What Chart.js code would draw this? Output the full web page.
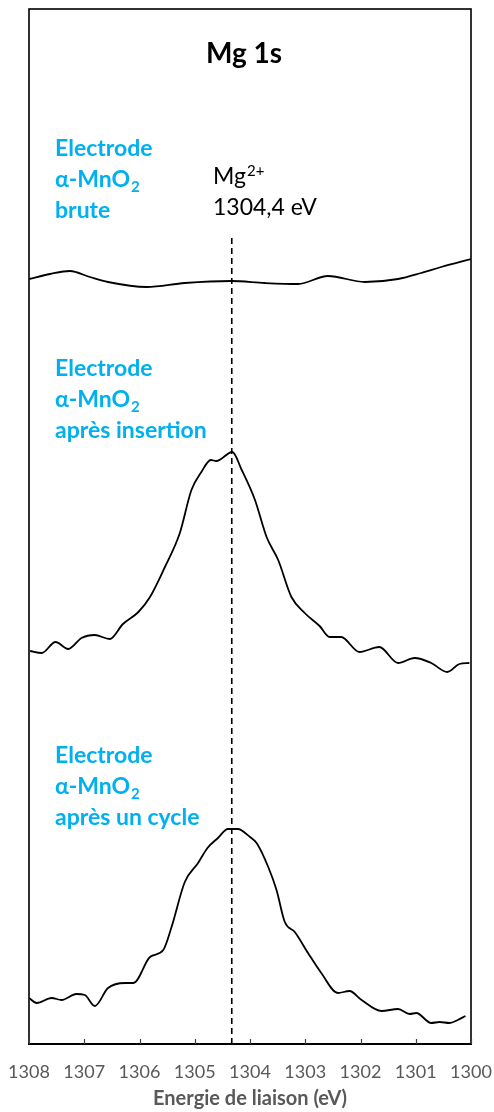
<!DOCTYPE html>
<html>
<head>
<meta charset="utf-8">
<script src="https://cdn.jsdelivr.net/npm/chart.js@4.4.1/dist/chart.umd.min.js"></script>
<style>
  html, body { margin: 0; padding: 0; background: #ffffff; }
  #wrap { width: 494px; height: 1112px; position: relative; }
</style>
</head>
<body>
<div id="wrap"><canvas id="c"></canvas></div>
<script>
// ---- Data (binding energy in eV, intensity in arbitrary stacked units) ----
const tickEnergies = [1308, 1307, 1306, 1305, 1304, 1303, 1302, 1301, 1300];

const energyBrute = [1308.00, 1307.62, 1307.26, 1306.90, 1306.57, 1305.87, 1305.18, 1304.34, 1303.73, 1303.13, 1302.59, 1301.92, 1301.32, 1300.90, 1300.54, 1300.00];
const intensityBrute = [765, 770, 773, 767, 762, 757, 761, 763, 761, 760, 768, 762, 765, 771, 777, 785];

const energyInsertion = [1307.98, 1307.77, 1307.52, 1307.29, 1307.05, 1306.81, 1306.54, 1306.30, 1306.02, 1305.81, 1305.54, 1305.27, 1305.06, 1304.88, 1304.71, 1304.61, 1304.32, 1304.15, 1303.91, 1303.70, 1303.49, 1303.25, 1303.01, 1302.74, 1302.56, 1302.35, 1302.02, 1301.66, 1301.32, 1301.02, 1300.72, 1300.43, 1300.21, 1300.03];
const intensityInsertion = [393, 391, 402, 395, 406, 409, 405, 420, 432, 447, 477, 511, 554, 572, 584, 583, 592, 574, 544, 507, 484, 447, 431, 418, 407, 407, 392, 397, 381, 386, 381, 372, 380, 381];

const energyCycle = [1308.00, 1307.86, 1307.59, 1307.41, 1307.14, 1306.99, 1306.81, 1306.57, 1306.26, 1306.11, 1305.81, 1305.57, 1305.42, 1305.18, 1304.94, 1304.77, 1304.58, 1304.40, 1304.22, 1304.00, 1303.88, 1303.67, 1303.52, 1303.37, 1303.19, 1302.95, 1302.71, 1302.41, 1302.20, 1301.98, 1301.62, 1301.32, 1301.11, 1300.99, 1300.72, 1300.57, 1300.39, 1300.24, 1300.10];
const intensityCycle = [46, 41, 46, 44, 50, 49, 38, 56, 61, 61, 87, 94, 117, 162, 181, 196, 206, 215, 215, 207, 201, 177, 154, 122, 112, 91, 71, 51, 53, 44, 33, 35, 30, 31, 21, 22, 21, 24, 28];

const markerEnergy = [1304.33, 1304.33];
const markerIntensity = [0, 807];

const yMin = 0, yMax = 1035;

function pts(xs, ys) { return xs.map((x, i) => ({ x: x, y: ys[i] })); }

const lineStyle = { showLine: true, borderColor: '#000000', borderWidth: 1.8, pointRadius: 0, cubicInterpolationMode: 'monotone', fill: false };

const framePlugin = {
  id: 'frame',
  afterDatasetsDraw(chart) {
    const ctx = chart.ctx;
    const { left, right, top, bottom } = chart.chartArea;
    const xs = chart.scales.x;
    ctx.save();
    // frame
    ctx.strokeStyle = '#000000';
    ctx.lineWidth = 1.6;
    ctx.strokeRect(left, top, right - left, bottom - top);
    ctx.lineWidth = 2.2;
    ctx.beginPath(); ctx.moveTo(left - 1, bottom); ctx.lineTo(right + 1, bottom); ctx.stroke();
    // inward tick marks
    ctx.lineWidth = 1.2;
    ctx.strokeStyle = '#404040';
    tickEnergies.forEach(v => {
      const px = Math.round(xs.getPixelForValue(v)) + 0.5;
      ctx.beginPath(); ctx.moveTo(px, bottom); ctx.lineTo(px, bottom - 5); ctx.stroke();
    });
    // title
    ctx.fillStyle = '#000000';
    ctx.textBaseline = 'alphabetic';
    ctx.textAlign = 'center';
    ctx.font = 'bold 28px Lato';
    ctx.fillText('Mg 1s', 244, 63);
    ctx.textAlign = 'left';
    // blue labels
    const blue = '#00B0F0';
    function mno2(x, y) {
      ctx.font = 'bold 23px Lato';
      ctx.fillText('α-MnO', x, y);
      const w = ctx.measureText('α-MnO').width;
      ctx.font = 'bold 15px Lato';
      ctx.fillText('2', x + w + 1, y + 5);
    }
    function block(y0, last) {
      ctx.fillStyle = blue;
      ctx.font = 'bold 23px Lato';
      ctx.fillText('Electrode', 55, y0);
      mno2(55, y0 + 31);
      ctx.font = 'bold 23px Lato';
      ctx.fillText(last, 55, y0 + 62);
    }
    block(156, 'brute');
    block(376, 'après insertion');
    block(763, 'après un cycle');
    // Mg2+ annotation
    ctx.fillStyle = '#000000';
    ctx.font = '23px Lato';
    ctx.fillText('Mg', 213, 184);
    const wm = ctx.measureText('Mg').width;
    ctx.font = '15px Lato';
    ctx.fillText('2+', 213 + wm + 1, 176);
    ctx.font = '23px Lato';
    ctx.fillText('1304,4 eV', 213, 215);
    ctx.restore();
  }
};

new Chart(document.getElementById('c'), {
  type: 'scatter',
  data: {
    datasets: [
      Object.assign({ label: 'brute', data: pts(energyBrute, intensityBrute) }, lineStyle),
      Object.assign({ label: 'après insertion', data: pts(energyInsertion, intensityInsertion) }, lineStyle),
      Object.assign({ label: 'après un cycle', data: pts(energyCycle, intensityCycle) }, lineStyle),
      { label: 'Mg2+', data: pts(markerEnergy, markerIntensity), showLine: true, borderColor: '#000000', borderWidth: 1.6, borderDash: [6, 4], pointRadius: 0, fill: false }
    ]
  },
  options: {
    responsive: true,
    maintainAspectRatio: false,
    animation: false,
    layout: { padding: { left: 29, right: 23, top: 9, bottom: 0 } },
    plugins: { legend: { display: false }, tooltip: { enabled: false } },
    scales: {
      x: {
        type: 'linear',
        reverse: true,
        min: 1300,
        max: 1308,
        border: { display: false },
        grid: { display: false, drawTicks: false },
        ticks: {
          stepSize: 1,
          padding: 17,
          color: '#595959',
          font: { family: 'Lato', size: 18 },
          callback: v => String(v)
        },
        afterBuildTicks: s => { s.ticks = tickEnergies.map(v => ({ value: v })); },
        afterFit: s => { s.height = 68; s.paddingLeft = 0; s.paddingRight = 0; },
        title: {
          display: true,
          text: 'Energie de liaison (eV)',
          color: '#595959',
          font: { family: 'Lato', size: 20, weight: 'bold' },
          padding: { top: 0, bottom: 1 }
        }
      },
      y: {
        display: false,
        min: yMin,
        max: yMax
      }
    }
  },
  plugins: [framePlugin]
});
</script>
</body>
</html>
